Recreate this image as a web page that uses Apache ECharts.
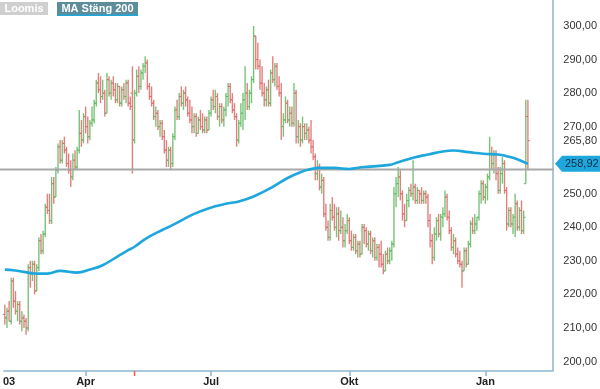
<!DOCTYPE html>
<html>
<head>
<meta charset="utf-8">
<script src="https://cdn.jsdelivr.net/npm/echarts@6/dist/echarts.min.js"></script>
<style>html,body{margin:0;padding:0;background:#fff}#c{width:600px;height:389px}</style>
</head>
<body>
<div id="c"></div>
<script>
// Daily OHLC bars [open, high, low, close]
const ohlc = [
[214,217,211,213],[213,216,210,215],[215,218,212,212],[212,225,211,224],[224,225,216,218],[218,221,214,215],[215,218,212,217],[217,218,211,212],[212,215,209,213],[213,214,210,212],
[212,213,208,210],[210,229,209,228],[228,230,222,226],[226,230,224,229],[229,230,220,221],[221,229,221,228],[228,237,227,236],[236,238,232,233],[233,239,232,238],[238,247,237,246],
[246,250,244,245],[245,250,241,242],[242,255,241,253],[253,255,247,249],[249,258,249,257],[257,265,256,264],[264,266,259,260],[260,266,259,265],[265,267,262,263],[263,264,258,259],
[259,262,256,257],[257,260,252,255],[255,262,254,260],[260,263,257,258],[258,264,257,263],[263,275,262,268],[268,272,264,266],[266,274,265,273],[273,276,268,270],[270,273,265,267],
[267,272,266,271],[271,276,270,272],[272,278,271,277],[277,284,276,283],[283,286,280,281],[281,285,277,279],[279,284,278,280],[280,281,273,274],[274,286,274,284],[284,285,279,280],
[280,284,278,283],[283,285,279,281],[281,283,277,278],[278,283,277,282],[282,282,276,277],[277,282,276,281],[281,283,278,279],[279,284,277,283],[283,284,276,277],[277,279,275,276],
[280,288,256,266],[266,281,265,280],[280,287,279,285],[285,288,280,282],[282,287,281,286],[286,289,284,288],[288,291,286,289],[289,290,281,282],[282,283,278,279],[279,282,276,277],
[277,278,272,273],[273,276,270,274],[274,275,269,270],[270,272,267,271],[271,272,266,267],[267,269,262,263],[263,266,258,260],[260,264,258,263],[263,264,257,259],[259,268,258,267],
[267,276,266,275],[275,278,272,273],[273,280,272,279],[279,282,276,277],[277,281,275,280],[280,282,276,278],[278,279,273,274],[274,278,271,272],[272,276,268,270],[270,274,268,273],
[273,274,267,268],[268,273,268,272],[272,275,269,270],[270,274,268,269],[269,273,268,272],[272,273,268,269],[269,275,269,274],[274,279,273,278],[278,281,275,276],[276,281,274,279],
[279,280,272,273],[273,277,270,276],[276,277,271,272],[272,276,270,275],[275,280,273,279],[279,283,276,282],[282,283,277,278],[278,280,274,275],[275,277,272,273],[273,274,264,266],
[266,272,265,271],[271,277,270,274],[274,280,269,278],[278,288,272,280],[280,283,275,276],[276,281,275,280],[280,285,277,284],[284,300,283,297],[297,297,287,290],[290,295,287,288],
[288,290,281,283],[283,288,279,280],[280,283,276,278],[278,282,276,281],[281,284,276,277],[277,287,276,286],[286,291,283,284],[284,289,282,288],[288,289,281,282],[282,285,279,280],
[280,283,266,270],[270,274,267,272],[272,279,271,277],[277,278,271,272],[272,276,270,274],[274,276,270,271],[271,283,270,280],[280,281,265,267],[267,272,265,270],[270,271,264,266],
[266,273,265,270],[270,271,266,268],[268,271,266,269],[269,270,265,266],[266,272,262,264],[264,266,260,261],[261,262,254,256],[256,260,254,258],[258,259,251,252],[252,256,250,254],
[254,255,243,244],[244,247,239,240],[240,242,236,237],[237,247,236,245],[245,249,242,243],[243,247,239,240],[240,246,237,244],[244,246,236,239],[239,245,238,240],[240,243,234,236],
[236,241,234,239],[239,244,238,242],[242,243,235,236],[236,239,233,234],[234,238,233,237],[237,238,232,233],[233,236,231,235],[235,236,231,232],[232,241,232,240],[240,241,235,239],
[239,240,234,235],[235,239,233,238],[238,239,232,233],[233,237,231,236],[236,237,230,231],[231,235,230,234],[234,235,228,232],[232,236,228,229],[229,232,226,227],[227,233,227,232],
[232,234,229,230],[230,234,229,233],[233,236,230,235],[235,252,234,250],[250,255,246,253],[253,258,249,255],[255,257,248,250],[250,251,242,244],[244,247,240,242],[242,250,242,248],
[248,252,246,251],[251,253,249,250],[250,260,248,252],[252,253,247,248],[248,252,247,251],[251,251,247,250],[250,252,247,248],[248,251,247,250],[250,251,247,249],[249,250,240,242],
[242,244,234,236],[236,238,229,231],[231,240,230,238],[238,243,236,242],[242,244,237,238],[238,244,236,243],[243,246,240,244],[244,251,243,249],[249,250,242,243],[243,245,238,239],
[239,240,233,234],[234,238,232,236],[236,237,231,232],[232,234,229,230],[230,233,228,229],[229,230,222,227],[227,234,227,233],[233,234,228,229],[229,236,229,235],[235,242,234,241],
[241,243,238,239],[239,244,238,241],[241,243,239,243],[243,251,242,250],[250,254,247,253],[253,254,248,249],[249,253,247,252],[252,256,248,255],[255,267,254,262],[262,264,257,259],
[259,263,256,262],[262,263,254,256],[256,258,250,251],[251,258,250,256],[256,261,253,259],[259,260,250,251],[251,252,239,241],[241,246,240,245],[245,246,240,241],[241,244,238,243],
[243,250,237,247],[247,248,239,240],[240,246,239,245],[245,248,238,239],[239,245,238,243],[253,278,253,273],[273,278,257,265.8]
];
// MA 200 (closing price) read at these bar indices
const maIdx = [0,4,11,15,20,26,34,40,46,54,58,61,66,74,79,88,96,104,110,117,125,133,139,143,148,155,162,168,181,185,193,199,206,211,218,225,232,236,241,246];
const maVal = [227.4,227.2,226.5,226.2,226.2,227.0,226.5,227.4,228.7,231.7,233.2,234.2,236.5,239.2,240.7,243.7,245.7,247.0,247.7,249.2,251.7,254.7,256.4,257.2,257.7,257.7,257.4,257.9,258.6,259.4,260.9,261.7,262.6,262.9,262.4,261.9,261.7,261.2,260.3,258.92];
// x-axis labels at bar indices
const tickIdx = [38, 97, 162, 226];
const tickText = ['Apr', 'Jul', 'Okt', 'Jan'];
const yearLabelIdx = 2, yearLabelText = '03';
const dividendIdx = 61;
const yTicks = [200, 210, 220, 230, 240, 250, 265.8, 270, 280, 290, 300];
const refLevel = 257.2;
const lastMA = 258.92;
const slotCount = 258;

const GREEN = '#62b962', RED = '#dd6a6a';
const categories = Array.from({length: slotCount}, (_, i) => String(i));
const labelMap = {};
tickIdx.forEach((ix, k) => labelMap[ix] = tickText[k]);
labelMap[yearLabelIdx] = yearLabelText;

const chart = echarts.init(document.getElementById('c'), null, {renderer: 'canvas'});
const fmt = v => v.toFixed(2).replace('.', ',');

chart.setOption({
  animation: false,
  grid: {left: 0, right: 46, top: 0, bottom: 18, containLabel: false},
  xAxis: {
    type: 'category', data: categories, boundaryGap: true,
    axisLine: {show: true, lineStyle: {color: '#8fb6cf', width: 1.5}},
    axisTick: {show: true, alignWithLabel: true, length: 5, lineStyle: {color: '#8fb6cf', width: 1.5},
      interval: (i) => tickIdx.includes(i)},
    axisLabel: {show: true, interval: (i) => labelMap[i] !== undefined, formatter: (v, i) => labelMap[i] || '',
      fontFamily: 'Liberation Sans, Arial, sans-serif', fontSize: 11, fontWeight: 'bold', color: '#222', margin: 5},
    splitLine: {show: false}
  },
  yAxis: {
    type: 'value', position: 'right', min: 197.17, max: 307.75, scale: true,
    axisLine: {show: true, lineStyle: {color: '#8fb6cf', width: 1.5}},
    axisTick: {show: false},
    splitLine: {show: false},
    axisLabel: {show: true, customValues: yTicks, formatter: v => fmt(v), margin: 11,
      fontFamily: 'Liberation Sans, Arial, sans-serif', fontSize: 11, color: '#333'}
  },
  series: [
    {
      type: 'custom', name: 'Loomis', z: 2,
      data: ohlc.map((b, i) => [i, b[0], b[1], b[2], b[3]]),
      encode: {x: 0, y: [1, 2, 3, 4]},
      renderItem: (params, api) => {
        const i = api.value(0);
        const o = api.value(1), h = api.value(2), l = api.value(3), c = api.value(4);
        const pH = api.coord([i, h]), pL = api.coord([i, l]);
        const pO = api.coord([i, o]), pC = api.coord([i, c]);
        const col = c >= o ? GREEN : RED;
        const st = {stroke: col, lineWidth: 1.4, opacity: 0.85};
        return {type: 'group', children: [
          {type: 'line', shape: {x1: pH[0], y1: pH[1], x2: pL[0], y2: pL[1]}, style: st},
          {type: 'line', shape: {x1: pO[0] - 2, y1: pO[1], x2: pO[0], y2: pO[1]}, style: {stroke: col, lineWidth: 1}},
          {type: 'line', shape: {x1: pC[0], y1: pC[1], x2: pC[0] + 2, y2: pC[1]}, style: {stroke: col, lineWidth: 1}}
        ]};
      }
    },
    {
      type: 'line', name: 'MA Stäng 200', z: 4,
      data: maIdx.map((ix, k) => [ix, maVal[k]]),
      showSymbol: false, smooth: 0.4,
      lineStyle: {color: '#1ea7dc', width: 2.6},
      itemStyle: {color: '#1ea7dc'}
    }
  ]
});

// overlays: legend boxes, reference line, MA value tag, dividend marker
const tagY = chart.convertToPixel({yAxisIndex: 0}, lastMA);
const refY = chart.convertToPixel({yAxisIndex: 0}, refLevel);
const gridRight = 600 - 46;
const divX = chart.convertToPixel({xAxisIndex: 0}, dividendIdx);
const axisY = 389 - 18;
chart.setOption({
  graphic: [
    {type: 'line', shape: {x1: 0, y1: refY, x2: gridRight, y2: refY}, style: {stroke: '#a8a8a8', lineWidth: 2}, z: 3},
    {type: 'rect', shape: {x: 0, y: 2, width: 48, height: 13}, style: {fill: '#cfcfcf'}, z: 10},
    {type: 'text', x: 24, y: 8.5, style: {text: 'Loomis', fill: '#fff', font: 'bold 11px Liberation Sans, Arial, sans-serif', align: 'center', verticalAlign: 'middle'}, z: 11},
    {type: 'rect', shape: {x: 57, y: 2, width: 81, height: 13}, style: {fill: '#5d8d98'}, z: 10},
    {type: 'rect', shape: {x: 57, y: 14.5, width: 81, height: 1.6}, style: {fill: '#1ea7dc'}, z: 11},
    {type: 'text', x: 97.5, y: 8.5, style: {text: 'MA Stäng 200', fill: '#fff', font: 'bold 11px Liberation Sans, Arial, sans-serif', align: 'center', verticalAlign: 'middle'}, z: 11},
    {type: 'polygon', shape: {points: [[gridRight + 1, tagY], [gridRight + 8, tagY - 8], [600, tagY - 8], [600, tagY + 8], [gridRight + 8, tagY + 8]]}, style: {fill: '#1ea7dc'}, z: 10},
    {type: 'text', x: gridRight + 11, y: tagY, style: {text: fmt(lastMA), fill: '#0e2c46', font: '11px Liberation Sans, Arial, sans-serif', align: 'left', verticalAlign: 'middle'}, z: 11},
    {type: 'line', shape: {x1: divX, y1: axisY, x2: divX, y2: axisY + 5}, style: {stroke: '#e85a5a', lineWidth: 1.5}, z: 10}
  ]
});
</script>
</body>
</html>
